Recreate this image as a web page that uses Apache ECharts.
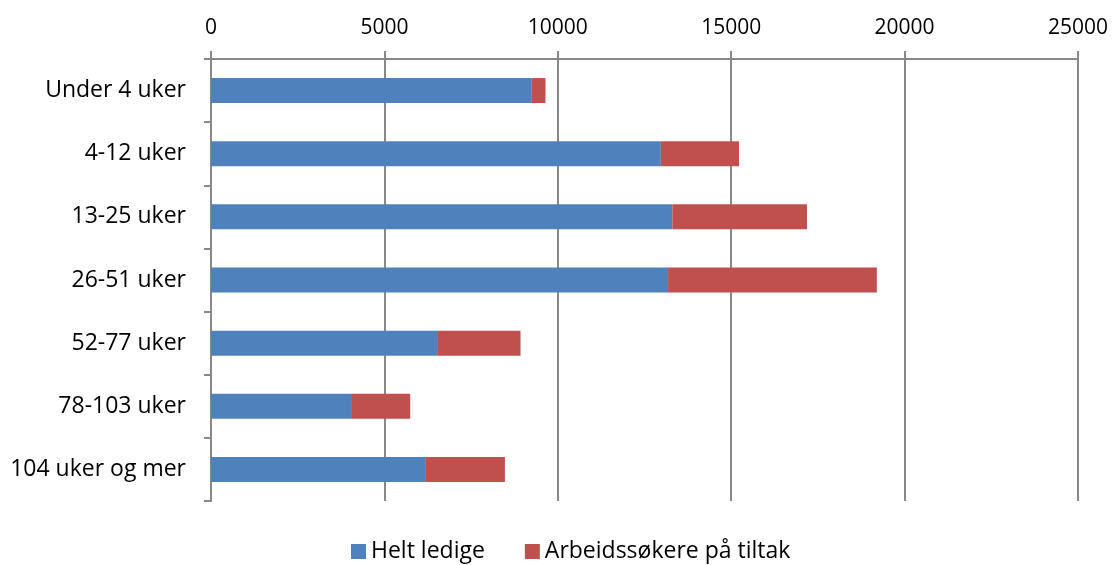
<!DOCTYPE html>
<html>
<head>
<meta charset="utf-8">
<script src="https://cdn.jsdelivr.net/npm/echarts@6/dist/echarts.min.js"></script>
<style>
html,body{margin:0;padding:0;background:#fff;}
#chart{width:1113px;height:565px;}
</style>
</head>
<body>
<div id="chart"></div>
<script>
const categories = ['Under 4 uker','4-12 uker','13-25 uker','26-51 uker','52-77 uker','78-103 uker','104 uker og mer'];
const heltLedige = [9250, 12970, 13305, 13180, 6520, 4065, 6175];
const paaTiltak = [395, 2255, 3880, 6020, 2405, 1680, 2300];
const xTicks = [0, 5000, 10000, 15000, 20000, 25000];
const seriesNames = ['Helt ledige','Arbeidssøkere på tiltak'];

const FONT = '"Open Sans", "Liberation Sans", sans-serif';
const chart = echarts.init(document.getElementById('chart'), null, {renderer:'canvas'});
chart.setOption({
  animation:false,
  backgroundColor:'#ffffff',
  grid:{left:211, right:35, top:59, bottom:64, containLabel:false},
  legend:{
    data:seriesNames,
    bottom:-3,
    left:346,
    itemWidth:15, itemHeight:15, itemGap:40,
    icon:'rect',
    textStyle:{fontFamily:FONT, fontSize:23, color:'#000'}
  },
  xAxis:{
    type:'value',
    position:'top',
    min:xTicks[0], max:xTicks[xTicks.length-1], interval:5000,
    axisLine:{show:true, lineStyle:{color:'#888', width:2}},
    axisTick:{show:true, length:8, lineStyle:{color:'#888', width:2}},
    splitLine:{show:true, lineStyle:{color:'#888', width:2}},
    axisLabel:{fontFamily:FONT, fontSize:21, color:'#000', margin:20,
      formatter:function(v){return String(v);}}
  },
  yAxis:{
    type:'category',
    inverse:true,
    data:categories,
    axisLine:{show:true, lineStyle:{color:'#888', width:2}},
    axisTick:{show:true, length:7, alignWithLabel:false, lineStyle:{color:'#888', width:2}},
    axisLabel:{fontFamily:FONT, fontSize:23, color:'#000', margin:25}
  },
  series:[
    {name:seriesNames[0], type:'bar', stack:'t', data:heltLedige, barWidth:25,
     itemStyle:{color:'#4F81BD'}},
    {name:seriesNames[1], type:'bar', stack:'t', data:paaTiltak, barWidth:25,
     itemStyle:{color:'#C0504D'}}
  ]
});
</script>
</body>
</html>
